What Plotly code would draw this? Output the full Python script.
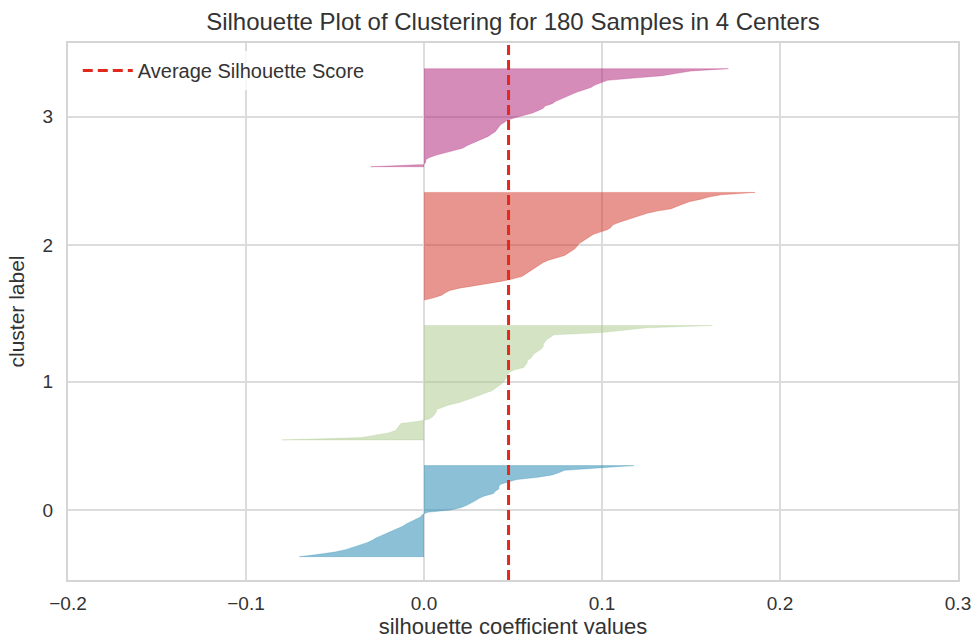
import plotly.graph_objects as go

# ---- data (sorted silhouette values per cluster) ----
cluster_labels = ["0", "1", "2", "3"]

sil_cluster0 = [-0.070, -0.059, -0.050, -0.044, -0.040, -0.035, -0.032, -0.029, -0.027, -0.024,
                -0.021, -0.017, -0.014, -0.012, -0.010, -0.007, -0.005, -0.002, -0.001, 0.002,
                0.015, 0.021, 0.024, 0.027, 0.029, 0.031, 0.034, 0.039, 0.040, 0.042,
                0.042, 0.043, 0.048, 0.052, 0.064, 0.072, 0.076, 0.079, 0.098, 0.118]

sil_cluster1 = [-0.080, -0.035, -0.027, -0.020, -0.016, -0.015, -0.014, -0.013, -0.003, 0.003,
                0.005, 0.006, 0.007, 0.007, 0.010, 0.014, 0.020, 0.024, 0.028, 0.031,
                0.034, 0.038, 0.040, 0.042, 0.0435, 0.045, 0.046, 0.0465, 0.047, 0.048,
                0.051, 0.056, 0.057, 0.058, 0.058, 0.060, 0.061, 0.062, 0.064, 0.066,
                0.067, 0.067, 0.068, 0.069, 0.071, 0.073, 0.100, 0.112, 0.125, 0.162]

sil_cluster2 = [0.001, 0.006, 0.010, 0.012, 0.0145, 0.020, 0.028, 0.037, 0.044, 0.050,
                0.055, 0.057, 0.059, 0.061, 0.063, 0.065, 0.067, 0.070, 0.075, 0.079,
                0.081, 0.083, 0.085, 0.086, 0.087, 0.089, 0.091, 0.093, 0.095, 0.099,
                0.103, 0.105, 0.106, 0.109, 0.113, 0.117, 0.121, 0.125, 0.131, 0.139,
                0.142, 0.145, 0.149, 0.155, 0.160, 0.167, 0.186]

sil_cluster3 = [-0.030, 0.000, 0.001, 0.001, 0.003, 0.007, 0.012, 0.017, 0.022, 0.024,
                0.027, 0.031, 0.034, 0.036, 0.038, 0.040, 0.041, 0.042, 0.043, 0.045,
                0.047, 0.051, 0.056, 0.061, 0.064, 0.067, 0.068, 0.072, 0.074, 0.077,
                0.079, 0.082, 0.086, 0.090, 0.094, 0.096, 0.100, 0.103, 0.118, 0.134,
                0.142, 0.150, 0.171]

avg_silhouette = 0.0475

x_tick_vals = [-0.2, -0.1, 0.0, 0.1, 0.2, 0.3]
x_tick_text = ["\u22120.2", "\u22120.1", "0.0", "0.1", "0.2", "0.3"]

cluster_colors = ["rgba(23,129,173,0.5)", "rgba(167,199,135,0.5)",
                  "rgba(207,43,29,0.5)", "rgba(173,25,113,0.5)"]

clusters = [sil_cluster0, sil_cluster1, sil_cluster2, sil_cluster3]

# ---- build figure (yellowbrick-style layout: gap of 10 between clusters) ----
fig = go.Figure()
y_lower = 10
tick_pos = []
for vals, col in zip(clusters, cluster_colors):
    size = len(vals)
    ys = list(range(y_lower, y_lower + size))
    xs = [0.0] + vals + [0.0]
    yy = [ys[0]] + ys + [ys[-1]]
    fig.add_trace(go.Scatter(x=xs, y=yy, mode="lines", fill="toself",
                             fillcolor=col, line=dict(width=0.5, color=col),
                             showlegend=False, hoverinfo="skip"))
    tick_pos.append(y_lower + 0.5 * size)
    y_lower = y_lower + size + 10

n_samples = sum(len(c) for c in clusters)
y_max = n_samples + (len(clusters) + 1) * 10

fig.add_trace(go.Scatter(x=[avg_silhouette, avg_silhouette], y=[0, y_max],
                         mode="lines", name="Average Silhouette Score",
                         line=dict(color="#e3281e", width=3, dash="10px,5px")))

fig.update_layout(
    width=972, height=641,
    margin=dict(l=68, r=14, t=43, b=61),
    paper_bgcolor="white", plot_bgcolor="white",
    font=dict(family="Liberation Sans, Arial, sans-serif", color="#333333"),
    title=dict(text="Silhouette Plot of Clustering for 180 Samples in 4 Centers",
               xref="paper", x=0.5, xanchor="center",
               yref="container", y=1 - 22 / 641, yanchor="middle",
               font=dict(size=24, color="#333333")),
    showlegend=True,
    legend=dict(x=0.011, y=0.985, xanchor="left", yanchor="top",
                bgcolor="rgba(255,255,255,0.8)", borderwidth=0, itemwidth=50,
                font=dict(size=20, color="#333333")),
    xaxis=dict(range=[-0.2, 0.3], tickvals=x_tick_vals, ticktext=x_tick_text,
               showgrid=True, gridcolor="#dcdcdc", gridwidth=1.5, zeroline=False,
               showline=True, linecolor="#d5d5d5", linewidth=2, mirror=True,
               ticks="", ticklabelstandoff=5, automargin=False,
               tickfont=dict(size=19, color="#333333"),
               title=dict(text="silhouette coefficient values", standoff=6,
                          font=dict(size=22, color="#333333"))),
    yaxis=dict(range=[0, y_max], tickvals=tick_pos, ticktext=cluster_labels,
               showgrid=True, gridcolor="#dcdcdc", gridwidth=1.5, zeroline=False,
               showline=True, linecolor="#d5d5d5", linewidth=2, mirror=True,
               ticks="", ticklabelstandoff=9, automargin=False,
               tickfont=dict(size=19, color="#333333"),
               title=dict(text="cluster label", standoff=12,
                          font=dict(size=21, color="#333333"))),
)

fig.write_html("out.html", config={"displayModeBar": False},
               post_script="document.body.style.margin='0px';")
